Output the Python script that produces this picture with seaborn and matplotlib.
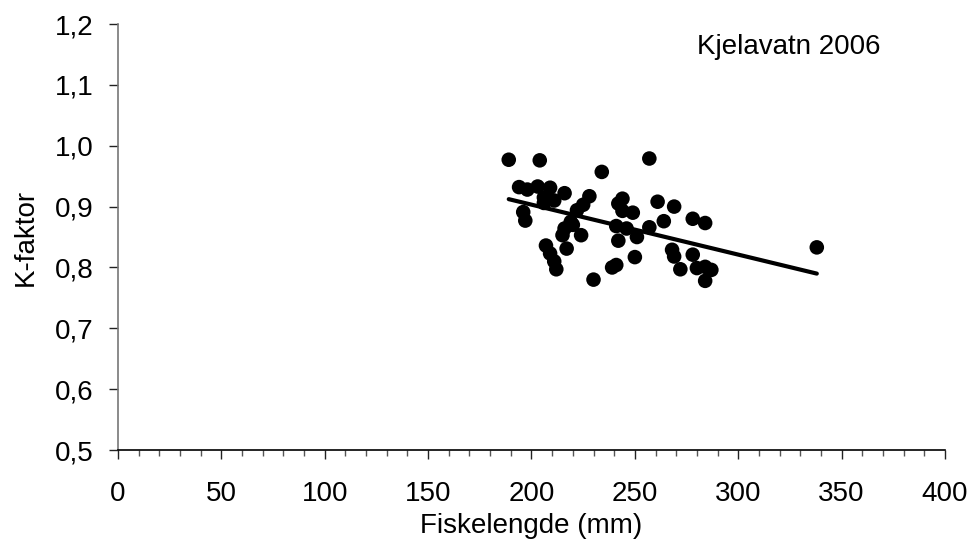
import matplotlib
matplotlib.use("Agg")
import matplotlib.pyplot as plt
from matplotlib.ticker import MultipleLocator, FuncFormatter
import numpy as np
import pandas as pd
import seaborn as sns

# Fish length (mm) and condition factor for each sampled fish
lengths = [189, 204, 234, 257, 194, 198, 203, 209, 206, 211, 216, 228, 225, 222,
           196, 197, 219, 216, 215, 224, 207, 209, 217, 211, 212, 230, 242, 244,
           244, 249, 261, 269, 264, 278, 284, 241, 246, 251, 257, 242, 250, 268,
           269, 278, 272, 241, 239, 280, 284, 284, 287, 338, 206, 220]
k_factor = [0.977, 0.976, 0.957, 0.979, 0.932, 0.928, 0.933, 0.931, 0.915, 0.910,
            0.922, 0.917, 0.903, 0.894, 0.891, 0.877, 0.875, 0.864, 0.853, 0.853,
            0.836, 0.823, 0.831, 0.810, 0.797, 0.780, 0.905, 0.913, 0.893, 0.890,
            0.908, 0.900, 0.876, 0.880, 0.873, 0.868, 0.864, 0.850, 0.866, 0.844,
            0.817, 0.829, 0.818, 0.821, 0.797, 0.804, 0.800, 0.799, 0.801, 0.778,
            0.796, 0.833, 0.906, 0.870]

# Linear trend line: K = intercept + slope * length
trend_intercept = 1.0674
trend_slope = -0.000821

title_text = "Kjelavatn 2006"
x_label = "Fiskelengde (mm)"
y_label = "K-faktor"

df = pd.DataFrame({"length": lengths, "k": k_factor})
trend_x = np.array([min(lengths), max(lengths)], dtype=float)
trend = pd.DataFrame({"length": trend_x,
                      "k": trend_intercept + trend_slope * trend_x})

sns.set_theme(style="white")
plt.rcParams["font.family"] = ["Liberation Sans", "DejaVu Sans"]
plt.rcParams["text.color"] = "black"
plt.rcParams["axes.labelcolor"] = "black"

fig = plt.figure(figsize=(9.72, 5.56), dpi=100)
ax = fig.add_axes([0.1214, 0.1906, 0.8508, 0.7662])

sns.scatterplot(data=df, x="length", y="k", ax=ax, s=110, color="black",
                edgecolor="none", alpha=1, zorder=3)
sns.lineplot(data=trend, x="length", y="k", ax=ax, color="black", lw=3,
             solid_capstyle="round", zorder=4)

ax.set_xlim(0, 400)
ax.set_ylim(0.5, 1.2)
ax.xaxis.set_major_locator(MultipleLocator(50))
ax.xaxis.set_minor_locator(MultipleLocator(10))
ax.yaxis.set_major_locator(MultipleLocator(0.1))

ax.yaxis.set_major_formatter(FuncFormatter(lambda v, p: f"{v:.1f}".replace(".", ",")))
ax.xaxis.set_major_formatter(FuncFormatter(lambda v, p: f"{v:.0f}"))

for side in ("top", "right"):
    ax.spines[side].set_visible(False)
ax.spines["left"].set_color("#777777")
ax.spines["bottom"].set_color("black")
ax.spines["left"].set_linewidth(1.2)
ax.spines["bottom"].set_linewidth(1.2)

ax.tick_params(axis="both", which="major", direction="out", length=6.5, width=1,
               color="#222222", labelsize=20, labelcolor="black",
               bottom=True, left=True)
ax.tick_params(axis="x", which="minor", direction="out", length=4.5, width=1,
               color="#555555", bottom=True)
ax.tick_params(axis="x", which="major", pad=16)
ax.tick_params(axis="y", which="major", pad=11)

ax.set_xlabel(x_label, fontsize=20, labelpad=4)
ax.set_ylabel(y_label, fontsize=20, labelpad=12)

ax.text(324.5, 1.162, title_text, ha="center", va="center", fontsize=20)

fig.savefig("out.png", dpi=100)
